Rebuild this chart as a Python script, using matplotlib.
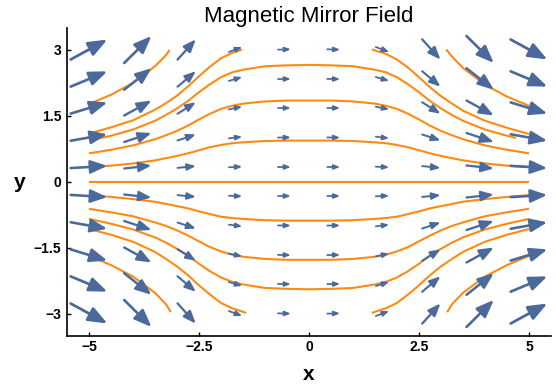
import matplotlib
matplotlib.use("Agg")
import matplotlib.pyplot as plt
from matplotlib.patches import FancyArrowPatch, ArrowStyle
import numpy as np

plt.rcParams['font.family'] = ['Liberation Sans', 'DejaVu Sans']

# ---------------- data ----------------
title = "Magnetic Mirror Field"
x_label = "x"
y_label = "y"
x_ticks = [-5, -2.5, 0, 2.5, 5]
x_tick_labels = ["\u22125", "\u22122.5", "0", "2.5", "5"]
y_ticks = [-3, -1.5, 0, 1.5, 3]
y_tick_labels = ["\u22123", "\u22121.5", "0", "1.5", "3"]

# vector field sample points
arrow_x = [-5, -3.89, -2.78, -1.67, -0.56, 0.56, 1.67, 2.78, 3.89, 5]
arrow_y = [-3, -2.33, -1.67, -1, -0.33, 0.33, 1, 1.67, 2.33, 3]
# arrow components (rows follow arrow_y, columns follow arrow_x)
arrow_u = [
    [36.7, 27.3, 18.3, 13.3, 12.8, 12.8, 13.3, 18.3, 27.3, 36.7],
    [36.7, 27.3, 18.3, 13.3, 12.8, 12.8, 13.3, 18.3, 27.3, 36.7],
    [36.7, 27.3, 18.3, 13.3, 12.8, 12.8, 13.3, 18.3, 27.3, 36.7],
    [36.7, 27.3, 18.3, 13.3, 12.8, 12.8, 13.3, 18.3, 27.3, 36.7],
    [36.7, 27.3, 18.3, 13.3, 12.8, 12.8, 13.3, 18.3, 27.3, 36.7],
    [36.7, 27.3, 18.3, 13.3, 12.8, 12.8, 13.3, 18.3, 27.3, 36.7],
    [36.7, 27.3, 18.3, 13.3, 12.8, 12.8, 13.3, 18.3, 27.3, 36.7],
    [36.7, 27.3, 18.3, 13.3, 12.8, 12.8, 13.3, 18.3, 27.3, 36.7],
    [36.7, 27.3, 18.3, 13.3, 12.8, 12.8, 13.3, 18.3, 27.3, 36.7],
    [36.7, 27.3, 18.3, 13.3, 12.8, 12.8, 13.3, 18.3, 27.3, 36.7],
]
arrow_v = [
    [-20.0, -27.0, -20.3, -5.0, -0.30, 0.30, 5.0, 20.3, 27.0, 20.0],
    [-15.3, -21.5, -15.5, -3.9, -0.25, 0.25, 3.9, 15.5, 21.5, 15.3],
    [-11.2, -15.0, -11.5, -2.7, -0.15, 0.15, 2.7, 11.5, 15.0, 11.2],
    [-6.5, -9.0, -6.0, -1.7, -0.10, 0.10, 1.7, 6.0, 9.0, 6.5],
    [-2.2, -3.0, -1.8, -0.6, -0.03, 0.03, 0.6, 1.8, 3.0, 2.2],
    [2.2, 3.0, 1.8, 0.6, 0.03, -0.03, -0.6, -1.8, -3.0, -2.2],
    [6.5, 9.0, 6.0, 1.7, 0.10, -0.10, -1.7, -6.0, -9.0, -6.5],
    [11.2, 15.0, 11.5, 2.7, 0.15, -0.15, -2.7, -11.5, -15.0, -11.2],
    [15.3, 21.5, 15.5, 3.9, 0.25, -0.25, -3.9, -15.5, -21.5, -15.3],
    [20.0, 27.0, 20.3, 5.0, 0.30, -0.30, -5.0, -20.3, -27.0, -20.0],
]

# field lines (x, y)
line_x_full = [-5, -4.5, -4, -3.5, -3.25, -3, -2.75, -2.5, -2.25, -2, -1.75, -1.5, -1, -0.5, 0,
               0.5, 1, 1.5, 1.75, 2, 2.25, 2.5, 2.75, 3, 3.25, 3.5, 4, 4.5, 5]
line_axis_y = [0.0] * 29
line_u1_y = [0.33, 0.36, 0.41, 0.48, 0.53, 0.58, 0.64, 0.71, 0.78, 0.83, 0.87, 0.89, 0.92, 0.93, 0.93,
             0.93, 0.92, 0.89, 0.87, 0.83, 0.78, 0.71, 0.64, 0.58, 0.53, 0.48, 0.41, 0.36, 0.33]
line_u2_y = [0.64, 0.72, 0.82, 0.96, 1.05, 1.15, 1.27, 1.41, 1.54, 1.65, 1.72, 1.77, 1.82, 1.84, 1.84,
             1.84, 1.82, 1.77, 1.72, 1.65, 1.54, 1.41, 1.27, 1.15, 1.05, 0.96, 0.82, 0.72, 0.64]
line_u3_x = [-5, -4.5, -4, -3.5, -3.25, -3, -2.75, -2.5, -2.25, -2, -1.75, -1.5, -1, -0.5, 0,
             0.5, 1, 1.5, 1.75, 2, 2.25, 2.5, 2.75, 3, 3.25, 3.5, 4, 4.5, 4.7]
line_u3_y = [0.93, 1.04, 1.18, 1.38, 1.51, 1.66, 1.83, 2.03, 2.21, 2.37, 2.48, 2.54, 2.62, 2.64, 2.65,
             2.64, 2.62, 2.54, 2.48, 2.37, 2.21, 2.03, 1.83, 1.66, 1.51, 1.38, 1.18, 1.04, 0.99]
line_u4l_x = [-5, -4.5, -4, -3.5, -3.25, -3, -2.75, -2.5, -2.25, -2, -1.75, -1.52]
line_u4l_y = [1.09, 1.23, 1.39, 1.63, 1.78, 1.95, 2.16, 2.39, 2.61, 2.80, 2.92, 3.0]
line_u4r_x = [1.43, 1.5, 1.75, 2, 2.25, 2.5, 2.75, 3, 3.25, 3.5, 4, 4.5, 5]
line_u4r_y = [3.0, 2.98, 2.90, 2.77, 2.59, 2.37, 2.14, 1.94, 1.77, 1.61, 1.38, 1.22, 1.08]
line_u5l_x = [-5, -4.5, -4, -3.5, -3.25, -3.17]
line_u5l_y = [1.76, 1.97, 2.24, 2.62, 2.87, 2.99]
line_u5r_x = [3.12, 3.25, 3.5, 4, 4.5, 5]
line_u5r_y = [3.0, 2.84, 2.58, 2.20, 1.93, 1.72]
line_d1_y = [-0.31, -0.35, -0.40, -0.46, -0.51, -0.56, -0.61, -0.68, -0.74, -0.80, -0.83, -0.85, -0.88, -0.89, -0.89,
             -0.89, -0.88, -0.85, -0.83, -0.80, -0.74, -0.68, -0.61, -0.56, -0.51, -0.46, -0.40, -0.35, -0.31]
line_d2_y = [-0.62, -0.70, -0.79, -0.93, -1.01, -1.11, -1.23, -1.36, -1.49, -1.59, -1.66, -1.71, -1.76, -1.78, -1.78,
             -1.78, -1.76, -1.71, -1.66, -1.59, -1.49, -1.36, -1.23, -1.11, -1.01, -0.93, -0.79, -0.70, -0.62]
line_d3_y = [-0.85, -0.96, -1.09, -1.27, -1.39, -1.53, -1.68, -1.87, -2.04, -2.18, -2.28, -2.34, -2.42, -2.44, -2.45,
             -2.44, -2.42, -2.34, -2.28, -2.18, -2.04, -1.87, -1.68, -1.53, -1.39, -1.27, -1.09, -0.96, -0.85]
line_d4l_x = [-5, -4.5, -4, -3.5, -3.25, -3, -2.75, -2.5, -2.25, -2, -1.75, -1.5, -1.43]
line_d4l_y = [-1.08, -1.21, -1.37, -1.60, -1.76, -1.93, -2.13, -2.36, -2.57, -2.76, -2.88, -2.96, -2.99]
line_d4r_x = [1.43, 1.5, 1.75, 2, 2.25, 2.5, 2.75, 3, 3.25, 3.5, 4, 4.5, 5]
line_d4r_y = [-2.99, -2.96, -2.88, -2.76, -2.57, -2.36, -2.13, -1.93, -1.76, -1.60, -1.37, -1.21, -1.08]
line_d5l_x = [-5, -4.5, -4, -3.5, -3.25, -3.14]
line_d5l_y = [-1.69, -1.90, -2.16, -2.53, -2.79, -2.97]
line_d5r_x = [3.14, 3.25, 3.5, 4, 4.5, 5]
line_d5r_y = [-2.97, -2.79, -2.53, -2.16, -1.90, -1.69]

# ---------------- style ----------------
ARROW_COLOR = "#4B6A9B"
LINE_COLOR = "#FF8A12"
PX_PER_UNIT = 44.0

fig = plt.figure(figsize=(5.56, 3.85), dpi=100)
ax = fig.add_axes([67 / 556, (385 - 335.5) / 385, 484 / 556, 308 / 385])
ax.set_xlim(-5.5, 5.5)
ax.set_ylim(-3.5, 3.5)

streamlines = [
    (line_x_full, line_axis_y), (line_x_full, line_u1_y), (line_x_full, line_u2_y),
    (line_u3_x, line_u3_y), (line_u4l_x, line_u4l_y), (line_u4r_x, line_u4r_y),
    (line_u5l_x, line_u5l_y), (line_u5r_x, line_u5r_y),
    (line_x_full, line_d1_y), (line_x_full, line_d2_y), (line_x_full, line_d3_y),
    (line_d4l_x, line_d4l_y), (line_d4r_x, line_d4r_y),
    (line_d5l_x, line_d5l_y), (line_d5r_x, line_d5r_y),
]
for lx, ly in streamlines:
    ax.plot(lx, ly, color=LINE_COLOR, lw=1.5, solid_capstyle='butt', zorder=2)

for j, yy in enumerate(arrow_y):
    for i, xx in enumerate(arrow_x):
        u = arrow_u[j][i]
        v = arrow_v[j][i]
        L = float(np.hypot(u, v))
        dx = u / PX_PER_UNIT / 2
        dy = v / PX_PER_UNIT / 2
        hl = 0.38 * L * 0.72
        hw = 0.15 * L * 0.72
        lw = (1.3 + 0.035 * L) * 0.72
        style = ArrowStyle('-|>', head_length=hl, head_width=hw)
        p = FancyArrowPatch((xx - dx, yy - dy), (xx + dx, yy + dy), arrowstyle=style,
                            mutation_scale=1, color=ARROW_COLOR, lw=lw,
                            shrinkA=0, shrinkB=0, zorder=3)
        ax.add_patch(p)

for s in ['top', 'right']:
    ax.spines[s].set_visible(False)
for s in ['left', 'bottom']:
    ax.spines[s].set_linewidth(1.2)
    ax.spines[s].set_color('black')

ax.set_xticks(x_ticks)
ax.set_xticklabels(x_tick_labels)
ax.set_yticks(y_ticks)
ax.set_yticklabels(y_tick_labels)
ax.tick_params(axis='both', direction='in', length=3, width=1.0, labelsize=10)
ax.tick_params(axis='x', pad=3)
ax.tick_params(axis='y', pad=4)
for t in ax.get_xticklabels() + ax.get_yticklabels():
    t.set_fontweight('bold')

ax.set_title(title, fontsize=16, y=(335.5 - 22) / 308, pad=0, va='baseline')
ax.set_xlabel(x_label, fontsize=15, fontweight='bold', va='baseline')
ax.xaxis.set_label_coords(0.5, (335.5 - 380) / 308)
ax.set_ylabel(y_label, fontsize=15, fontweight='bold', rotation=0, va='baseline', ha='center')
ax.yaxis.set_label_coords((20 - 67) / 484, (335.5 - 188) / 308)

fig.savefig("out.png", dpi=100)
